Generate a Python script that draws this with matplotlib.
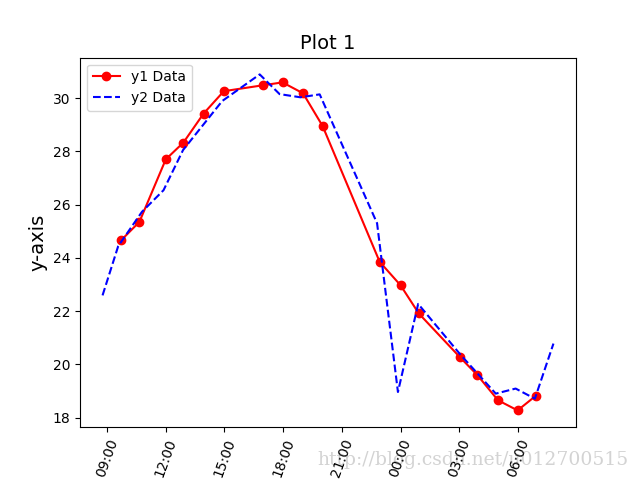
import datetime as dt
import matplotlib
matplotlib.use("Agg")
import matplotlib.pyplot as plt
import matplotlib.dates as mdates

# readings (clock times run past midnight into the next day)
t1 = ["09:43", "10:39", "12:00", "12:54", "13:56", "14:58", "16:57", "17:58", "19:01",
      "20:01", "22:56", "00:00", "00:56", "03:02", "03:56", "04:59", "05:59", "06:55"]
y1 = [24.66, 25.35, 27.70, 28.33, 29.42, 30.26, 30.48, 30.59, 30.18,
      28.95, 23.85, 22.97, 21.91, 20.27, 19.59, 18.65, 18.27, 18.82]

t2 = ["08:46", "09:34", "10:47", "11:53", "12:53", "14:53", "16:48", "17:49", "18:53",
      "19:52", "22:48", "23:52", "00:54", "03:04", "04:52", "05:53", "06:52", "07:49"]
y2 = [22.59, 24.44, 25.73, 26.54, 28.05, 29.89, 30.89, 30.15, 30.03,
      30.14, 25.30, 18.96, 22.27, 20.36, 18.90, 19.09, 18.71, 20.78]


def to_dt(s):
    h, m = map(int, s.split(":"))
    day = 1 if h >= 8 else 2
    return dt.datetime(2017, 1, day, h, m)


x1 = [to_dt(s) for s in t1]
x2 = [to_dt(s) for s in t2]

fig, ax = plt.subplots(figsize=(6.4, 4.8), dpi=100)
ax.plot(x1, y1, "r-o", label="y1 Data")
ax.plot(x2, y2, "b--", label="y2 Data")
ax.xaxis.set_major_locator(mdates.HourLocator(byhour=range(0, 24, 3)))
ax.xaxis.set_major_formatter(mdates.DateFormatter("%H:%M"))
plt.setp(ax.get_xticklabels(), rotation=70)
ax.set_title("Plot 1", fontsize=14)
ax.set_ylabel("y-axis", fontsize=14)
ax.legend(loc="upper left")

# watermark, sits under the tick labels
fig.text(0.982, 0.042, "http://blog.csdn.net/u012700515", ha="right", va="center",
         fontsize=13.5, family="serif", color="#c8c8c8", alpha=0.8, zorder=-1)

fig.savefig("out.png", dpi=100)
